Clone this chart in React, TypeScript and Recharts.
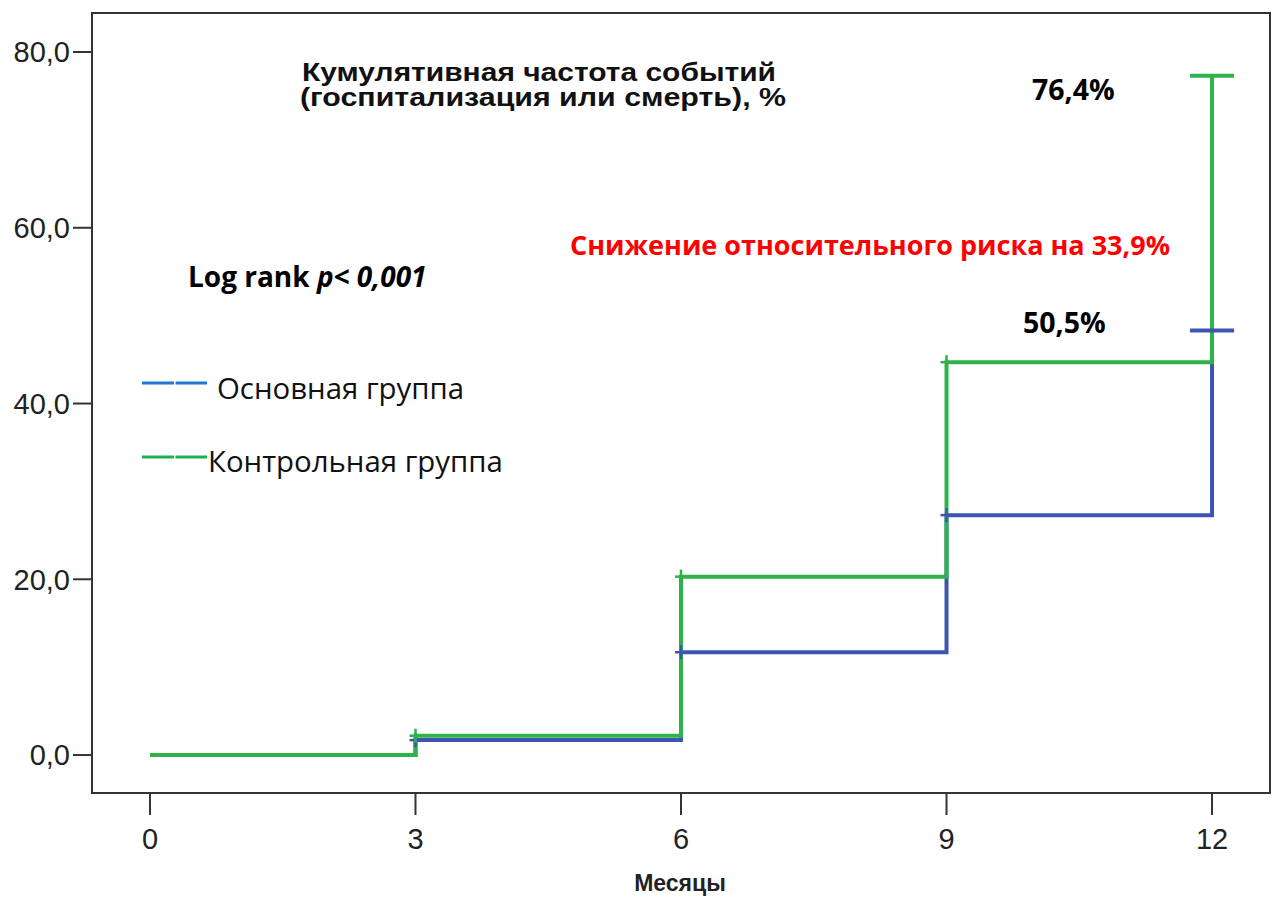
import React from 'react';
import { LineChart, Line, XAxis, YAxis, ReferenceArea } from 'recharts';

// months of follow-up and cumulative event rate, %
const months = [0, 3, 6, 9, 12];
const mainGroup = [0, 1.7, 11.7, 27.3, 48.3];
const controlGroup = [0, 2.2, 20.3, 44.7, 77.3];
const xTicks = [0, 3, 6, 9, 12];
const yTicks = [0, 20, 40, 60, 80];

const data = months.map((m, i) => ({ month: m, main: mainGroup[i], control: controlGroup[i] }));

const X_DOMAIN: [number, number] = [-0.655, 12.655];
const Y_DOMAIN: [number, number] = [-4.32, 84.44];

const BLUE = '#3d55b0';
const GREEN = '#2db34a';
const AXIS = '#333333';
const ARIAL = '"Liberation Sans", Arial, sans-serif';
const CALIBRI = '"Open Sans", "Noto Sans", sans-serif';

const formatY = (v: number) => v.toFixed(1).replace('.', ',');

// censoring "+" marks at each step; wide cap at the last month
const censorDot = (color: string) => (props: any) => {
  const { cx, cy, index, payload } = props;
  if (index === 0 || cx == null) return <g key={`d-${index}`} />;
  const last = payload.month === months[months.length - 1];
  const w = last ? 22 : 6;
  return (
    <g key={`d-${index}`}>
      <line x1={cx - w} x2={cx + w} y1={cy} y2={cy} stroke={color} strokeWidth={last ? 4 : 2.5} />
      {!last && <line x1={cx} x2={cx} y1={cy - 7} y2={cy + 7} stroke={color} strokeWidth={2.5} />}
    </g>
  );
};

const App: React.FC = () => {
  return (
    <div style={{ position: 'absolute', left: 0, top: 0, width: 1275, height: 897, background: '#fff' }}>
      <LineChart width={1275} height={897} data={data} margin={{ top: 13, right: 5, left: 0, bottom: 0 }}>
        <XAxis
          dataKey="month"
          type="number"
          domain={X_DOMAIN}
          allowDataOverflow
          ticks={xTicks}
          height={104}
          tickSize={22}
          tickMargin={13}
          tick={{ fontSize: 29, fill: '#222', fontFamily: ARIAL }}
          axisLine={{ stroke: AXIS, strokeWidth: 2 }}
          tickLine={{ stroke: AXIS, strokeWidth: 2 }}
        />
        <YAxis
          type="number"
          domain={Y_DOMAIN}
          allowDataOverflow
          ticks={yTicks}
          width={92}
          tickSize={19}
          tickMargin={3}
          tickFormatter={formatY}
          tick={{ fontSize: 29, fill: '#222', fontFamily: ARIAL }}
          axisLine={{ stroke: AXIS, strokeWidth: 2 }}
          tickLine={{ stroke: AXIS, strokeWidth: 2 }}
        />
        {/* plot frame */}
        <ReferenceArea
          x1={X_DOMAIN[0]}
          x2={X_DOMAIN[1]}
          y1={Y_DOMAIN[0]}
          y2={Y_DOMAIN[1]}
          fill="none"
          stroke={AXIS}
          strokeWidth={2}
          ifOverflow="visible"
        />
        <Line
          type="stepAfter"
          dataKey="main"
          stroke={BLUE}
          strokeWidth={4}
          dot={censorDot(BLUE)}
          activeDot={false}
          isAnimationActive={false}
        />
        <Line
          type="stepAfter"
          dataKey="control"
          stroke={GREEN}
          strokeWidth={4}
          dot={censorDot(GREEN)}
          activeDot={false}
          isAnimationActive={false}
        />
      </LineChart>
      <svg width={1275} height={897} style={{ position: 'absolute', left: 0, top: 0, pointerEvents: 'none' }}>
        <g fontFamily={ARIAL} fontWeight="bold" fontSize={26} fill="#111">
          <text x={302} y={81} textLength={474} lengthAdjust="spacingAndGlyphs">Кумулятивная частота событий</text>
          <text x={300} y={106} textLength={486} lengthAdjust="spacingAndGlyphs">(госпитализация или смерть), %</text>
        </g>
        <text x={188} y={287} fontFamily={CALIBRI} fontWeight="bold" fontSize={28} fill="#000">
          Log rank <tspan fontStyle="italic">p&lt; 0,001</tspan>
        </text>
        <text x={570} y={255} fontFamily={CALIBRI} fontWeight="bold" fontSize={27} fill="#ff0000">
          Снижение относительного риска на 33,9%
        </text>
        <text x={1032} y={100} fontFamily={CALIBRI} fontWeight="bold" fontSize={28.5} fill="#000">76,4%</text>
        <text x={1023} y={333} fontFamily={CALIBRI} fontWeight="bold" fontSize={28.5} fill="#000">50,5%</text>
        <line x1={142} x2={207} y1={383} y2={383} stroke="#1f77d0" strokeWidth={3} strokeDasharray="32 1.5" />
        <text x={217} y={399} fontFamily={CALIBRI} fontSize={29.4} fill="#111">Основная группа</text>
        <line x1={142} x2={207} y1={457} y2={457} stroke="#1db050" strokeWidth={3} strokeDasharray="32 1.5" />
        <text x={208} y={472} fontFamily={CALIBRI} fontSize={29.4} fill="#111">Контрольная группа</text>
        <text x={680} y={891} textAnchor="middle" fontFamily={ARIAL} fontWeight="bold" fontSize={23} fill="#222">
          Месяцы
        </text>
      </svg>
    </div>
  );
};

export default App;
